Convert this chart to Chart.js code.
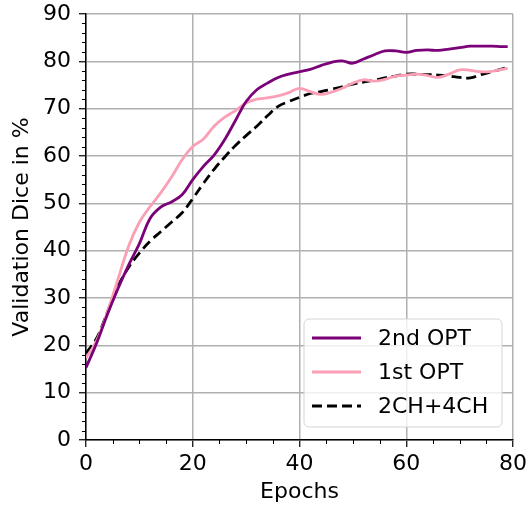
<!DOCTYPE html>
<html>
<head>
<meta charset="utf-8">
<script src="https://cdn.jsdelivr.net/npm/chart.js@4"></script>
<style>
  html, body { margin: 0; padding: 0; background: #fff; }
  #wrap { width: 528px; height: 509px; }
</style>
</head>
<body>
<div id="wrap"><canvas id="chart"></canvas></div>
<script>
// epochs
const epochs = [0, 2, 4, 6, 8, 10, 12, 14, 16, 18, 20, 22, 24, 26, 28, 30, 32, 34, 36, 38,
  40, 42, 44, 46, 48, 50, 52, 54, 56, 58, 60, 62, 64, 66, 68, 70, 72, 74, 76, 78, 79];

const secondOpt = [15.3, 20.5, 26.5, 32, 37, 41.5, 46.8, 49.2, 50.3, 51.8, 55, 57.8, 60.2, 63.5, 67.5, 71.5, 74, 75.4, 76.6, 77.3,
  77.8, 78.3, 79.1, 79.8, 80.1, 79.6, 80.5, 81.4, 82.2, 82.2, 81.9, 82.3, 82.4, 82.3, 82.6, 82.9, 83.2, 83.2, 83.2, 83.1, 83.1];

const firstOpt = [17.3, 21, 27, 34, 41, 46, 49.3, 52.2, 55.5, 59.2, 62, 63.6, 66.3, 68.2, 69.6, 71.2, 72, 72.3, 72.7, 73.4,
  74.3, 73.6, 73, 73.5, 74.3, 75.4, 76.1, 75.8, 76.2, 76.9, 77.1, 77.3, 77, 76.6, 77.3, 78.2, 78.1, 77.8, 77.9, 78.3, 78.5];

const twoFourCh = [18.3, 21.5, 27, 32.5, 36.5, 39.5, 42, 44, 46, 48, 51, 54.2, 57.2, 59.8, 62.2, 64.3, 66.3, 68.5, 70.5, 71.5,
  72.4, 73.2, 73.6, 74.1, 74.6, 75.2, 75.6, 76, 76.5, 76.9, 77.3, 77.3, 77.2, 77.1, 76.9, 76.6, 76.5, 77.2, 77.8, 78.4, 78.7];

const seriesNames = ['2nd OPT', '1st OPT', '2CH+4CH'];

const FONT = 'DejaVu Sans';
const pts = arr => arr.map((v, i) => ({ x: epochs[i], y: v }));

// minor tick marks, matplotlib style
const minorTicks = {
  id: 'minorTicks',
  afterDraw(chart) {
    const { ctx, scales: { x, y } } = chart;
    ctx.save();
    ctx.strokeStyle = '#000';
    ctx.lineWidth = 1;
    ctx.beginPath();
    for (let v = 0; v <= 90; v += 2) {
      if (v % 10 === 0) continue;
      const py = Math.round(y.getPixelForValue(v)) + 0.5;
      ctx.moveTo(y.right - 4, py);
      ctx.lineTo(y.right, py);
    }
    for (let v = 0; v <= 80; v += 5) {
      if (v % 20 === 0) continue;
      const px = Math.round(x.getPixelForValue(v)) + 0.5;
      ctx.moveTo(px, x.top);
      ctx.lineTo(px, x.top + 4);
    }
    ctx.stroke();
    ctx.restore();
  }
};

// framed legend in the lower right of the plot
const boxLegend = {
  id: 'boxLegend',
  afterDraw(chart) {
    const { ctx, chartArea } = chart;
    const w = 198, h = 108;
    const bx = chartArea.right - 11 - w;
    const by = chartArea.bottom - 13 - h;
    ctx.save();
    ctx.beginPath();
    ctx.roundRect(bx, by, w, h, 5);
    ctx.fillStyle = 'rgba(255,255,255,0.8)';
    ctx.fill();
    ctx.strokeStyle = '#d5d5d5';
    ctx.lineWidth = 1;
    ctx.stroke();
    ctx.font = '22px "' + FONT + '"';
    ctx.textBaseline = 'middle';
    chart.data.datasets.forEach((ds, i) => {
      const ry = by + 19 + i * 34;
      ctx.beginPath();
      ctx.setLineDash(ds.borderDash || []);
      ctx.strokeStyle = ds.borderColor;
      ctx.lineWidth = ds.borderWidth;
      ctx.moveTo(bx + 8, ry);
      ctx.lineTo(bx + 57, ry);
      ctx.stroke();
      ctx.setLineDash([]);
      ctx.fillStyle = '#000';
      ctx.fillText(ds.label, bx + 74, ry + 1);
    });
    ctx.restore();
  }
};

new Chart(document.getElementById('chart'), {
  type: 'line',
  data: {
    datasets: [{
      label: seriesNames[0],
      data: pts(secondOpt),
      borderColor: '#7a0177',
      borderWidth: 2.8
    }, {
      label: seriesNames[1],
      data: pts(firstOpt),
      borderColor: '#fa9fb5',
      borderWidth: 2.8
    }, {
      label: seriesNames[2],
      data: pts(twoFourCh),
      borderColor: '#000000',
      borderWidth: 2.8,
      borderDash: [10, 5]
    }]
  },
  options: {
    responsive: true,
    maintainAspectRatio: false,
    animation: false,
    devicePixelRatio: 1,
    elements: {
      line: { tension: 0.4, fill: false },
      point: { radius: 0 }
    },
    layout: { padding: { top: 14, right: 15, left: 0, bottom: 0 } },
    plugins: {
      legend: { display: false },
      tooltip: { enabled: false }
    },
    scales: {
      x: {
        type: 'linear',
        min: 0,
        max: 80,
        afterFit: s => { s.height = 69; s.paddingRight = 0; s.paddingLeft = 0; },
        border: { display: true, color: '#000', width: 1.5 },
        grid: { color: '#b0b0b0', lineWidth: 1.5, tickColor: '#000', tickLength: 7, tickWidth: 1.2 },
        ticks: { stepSize: 20, color: '#000', padding: 4, maxRotation: 0, font: { family: FONT, size: 22 } },
        title: { display: true, text: 'Epochs', color: '#000', font: { family: FONT, size: 22 }, padding: { top: 0, bottom: 4 } }
      },
      y: {
        min: 0,
        max: 90,
        afterFit: s => { s.width = 86; s.paddingTop = 0; s.paddingBottom = 0; },
        border: { display: true, color: '#000', width: 1.5 },
        grid: { color: '#b0b0b0', lineWidth: 1.5, tickColor: '#000', tickLength: 7, tickWidth: 1.2 },
        ticks: { stepSize: 10, color: '#000', padding: 8, font: { family: FONT, size: 22 } },
        title: { display: true, text: 'Validation Dice in %', color: '#000', font: { family: FONT, size: 22 }, padding: { top: 9, bottom: 0 } }
      }
    }
  },
  plugins: [minorTicks, boxLegend]
});
</script>
</body>
</html>
